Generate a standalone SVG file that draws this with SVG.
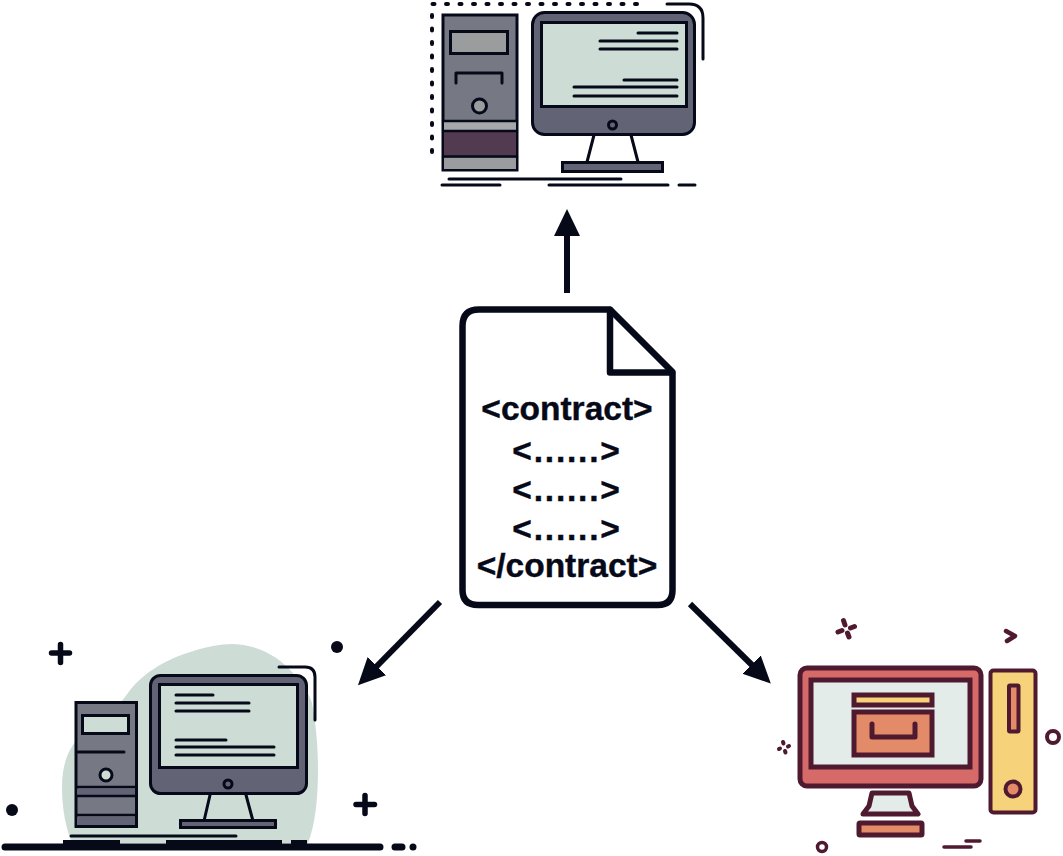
<svg xmlns="http://www.w3.org/2000/svg" width="1063" height="856" viewBox="0 0 1063 856">
<style>
.k{stroke:#060a18;fill:none;stroke-linecap:round;stroke-linejoin:round}
.m{stroke:#4f1a30;fill:none;stroke-linecap:round;stroke-linejoin:round}
.t{font-family:"Liberation Sans",Arial,sans-serif;font-weight:700;font-size:33.5px;fill:#060a18;stroke:#060a18;stroke-width:.4;text-anchor:middle}
.a{stroke:#060a18;stroke-width:6;fill:none}
</style>
<defs>
<marker id="h" markerUnits="userSpaceOnUse" markerWidth="30" markerHeight="30" refX="2" refY="13" orient="auto"><path d="M0 0L27 13L0 26Z" fill="#060a18"/></marker>
</defs>
<g id="connectors">
<line class="a" x1="567" y1="293" x2="567" y2="234" marker-end="url(#h)"/>
<line class="a" x1="440" y1="602" x2="375.500" y2="667.500" marker-end="url(#h)"/>
<line class="a" x1="690" y1="604" x2="753" y2="666" marker-end="url(#h)"/>
</g>
<g id="document">
<path d="M479 309.500H610L672.500 372V590Q672.500 605 658 605H478Q462.500 605 462.500 590V326Q462.500 309.500 479 309.500Z" fill="#fff" stroke="#060a18" stroke-width="6.500" stroke-linejoin="round"/>
<path d="M610 310V372.500H672" class="k" stroke-width="6.500"/>
<text class="t" x="567" y="420">&lt;contract&gt;</text>
<text class="t" x="567" y="461.500" letter-spacing="1.8">&lt;......&gt;</text>
<text class="t" x="567" y="500.500" letter-spacing="1.8">&lt;......&gt;</text>
<text class="t" x="567" y="539.500" letter-spacing="1.8">&lt;......&gt;</text>
<text class="t" x="567" y="577">&lt;/contract&gt;</text>
</g>
<g id="top-computer">
<path d="M432 152V4H640" class="k" stroke-width="4" stroke-dasharray="2 11.500"/>
<path d="M667 4H689Q703 4 703 18V59" class="k" stroke-width="3"/>
<rect x="443" y="15" width="74" height="155" fill="#767884" stroke="#060a18" stroke-width="3"/>
<rect x="450.500" y="31.500" width="57" height="22" fill="#9a9c9e" stroke="#060a18" stroke-width="3"/>
<path d="M456 83V73H502V83" class="k" stroke-width="3"/>
<circle cx="479.500" cy="106" r="7" fill="#9a9c9e" stroke="#060a18" stroke-width="3"/>
<rect x="444" y="122" width="72" height="9" fill="#a5a7a9"/>
<rect x="444" y="132" width="72" height="24" fill="#523a50"/>
<rect x="444" y="158" width="72" height="11" fill="#9a9c9e"/>
<path d="M443 121H517M443 131H517M443 156.500H517" class="k" stroke-width="2.500"/>
<rect x="532.500" y="12.500" width="162" height="122" rx="12" fill="#626476" stroke="#060a18" stroke-width="3"/>
<rect x="541.500" y="22.500" width="145" height="84" fill="#cdddd6" stroke="#060a18" stroke-width="3"/>
<path d="M638 33H677M600 41H677M600 49H677M624 80H677M574 87H677M574 96H677" class="k" stroke-width="3"/>
<circle cx="612.500" cy="125" r="4" fill="#626476" stroke="#060a18" stroke-width="3"/>
<path d="M594 135L587 162M631 135L638 162" class="k" stroke-width="3"/>
<rect x="562.500" y="162.500" width="100" height="9" fill="#626476" stroke="#060a18" stroke-width="3"/>
<path d="M449 179H621M442 185H500M549 185H668M679 185H695" class="k" stroke-width="3"/>
</g>
<g id="left-computer">
<path d="M72 843C66 828 62 810 62 787C62 765 68 750 77 740C95 722 115 712 128 693C140 675 165 660 187 653C205 647 220 644 233 644C260 645 280 658 293 673C303 684 309 694 312 703C316 725 318 745 318 770C318 800 315 825 308 843Z" fill="#cdddd6"/>
<rect x="76" y="702.500" width="60.500" height="124" fill="#767884" stroke="#060a18" stroke-width="3"/>
<rect x="82.500" y="715.500" width="46" height="18" fill="#cdddd6" stroke="#060a18" stroke-width="3"/>
<path d="M78 752H124" class="k" stroke-width="3"/>
<circle cx="106" cy="775" r="6" fill="#cdddd6" stroke="#060a18" stroke-width="3"/>
<rect x="77" y="789" width="58" height="6" fill="#626476"/>
<rect x="77" y="817" width="58" height="8" fill="#626476"/>
<path d="M77 787H135M77 796H135M77 815H135" class="k" stroke-width="2.500"/>
<rect x="150.500" y="675.500" width="156" height="118" rx="10" fill="#626476" stroke="#060a18" stroke-width="3"/>
<rect x="159.500" y="684.500" width="138" height="83" fill="#cdddd6" stroke="#060a18" stroke-width="3"/>
<path d="M176 695H213M176 703H249M176 711H249M176 740H226M176 747H274M176 755H274" class="k" stroke-width="3"/>
<circle cx="228" cy="784" r="4" fill="#626476" stroke="#060a18" stroke-width="3"/>
<path d="M210 795L204 821M246 795L253 821" class="k" stroke-width="3"/>
<rect x="180.500" y="820.500" width="95" height="7" fill="#626476" stroke="#060a18" stroke-width="3"/>
<path d="M279 667H305Q315 667 315 677V720" class="k" stroke-width="3"/>
<path d="M71 836H236" class="k" stroke-width="3"/>
<path d="M5 847H380M395 847H402" class="k" stroke-width="7"/>
<path d="M63 840H120V847H63ZM166 840H282V847H166ZM291 840H307V847H291Z" fill="#060a18"/>
<circle cx="413" cy="847" r="3.500" fill="#060a18"/>
<path d="M51.500 653H69.500M60.500 644.500V662.500M356 804.500H374.500M365 795.500V813.500" class="k" stroke-width="5.500"/>
<circle cx="337" cy="647" r="6" fill="#060a18"/>
<circle cx="12" cy="810" r="6" fill="#060a18"/>
</g>
<g id="right-computer">
<rect x="800" y="668" width="181" height="118" rx="7" fill="#d66a68" stroke="#4f1a30" stroke-width="5"/>
<rect x="811" y="680" width="159" height="87" fill="#e4ecea" stroke="#4f1a30" stroke-width="5"/>
<rect x="854" y="695" width="78" height="10" fill="#f6d27a" stroke="#4f1a30" stroke-width="5"/>
<rect x="854" y="712" width="78" height="43" fill="#e38a69" stroke="#4f1a30" stroke-width="5"/>
<path d="M872 724V737H915V724" class="m" stroke-width="5"/>
<path d="M872 793H909L912 806L918 814H863L869 806Z" fill="#e4ecea" stroke="#4f1a30" stroke-width="5" stroke-linejoin="round"/>
<rect x="859" y="823" width="63" height="12" rx="1" fill="#e38a69" stroke="#4f1a30" stroke-width="5"/>
<rect x="990.500" y="670.500" width="45" height="142" rx="3" fill="#f6d27a" stroke="#4f1a30" stroke-width="4"/>
<rect x="1009" y="685.500" width="9.500" height="46" rx="1" fill="#e38a69" stroke="#4f1a30" stroke-width="4"/>
<circle cx="1013" cy="789" r="7.500" fill="#e38a69" stroke="#4f1a30" stroke-width="4"/>
<circle cx="1053" cy="737" r="6" fill="#fff" stroke="#4f1a30" stroke-width="4"/>
<circle cx="822" cy="847" r="4.500" fill="#fff" stroke="#4f1a30" stroke-width="3.500"/>
<path d="M1006 631L1015 636L1007 641" class="m" stroke-width="4.500"/>
<path d="M843.500 620.500L845 625M850.500 628L854.500 626.500M847.500 633L849 637M842 630.500L838 632" class="m" stroke-width="5"/>
<path d="M783 742L783.500 743.500M789 746L788 746.500M785.500 752.500L785 751M779 749L780 748.500" class="m" stroke-width="4"/>
<path d="M944 847H971M966 841H980" class="m" stroke-width="3.500"/>
</g>
</svg>
